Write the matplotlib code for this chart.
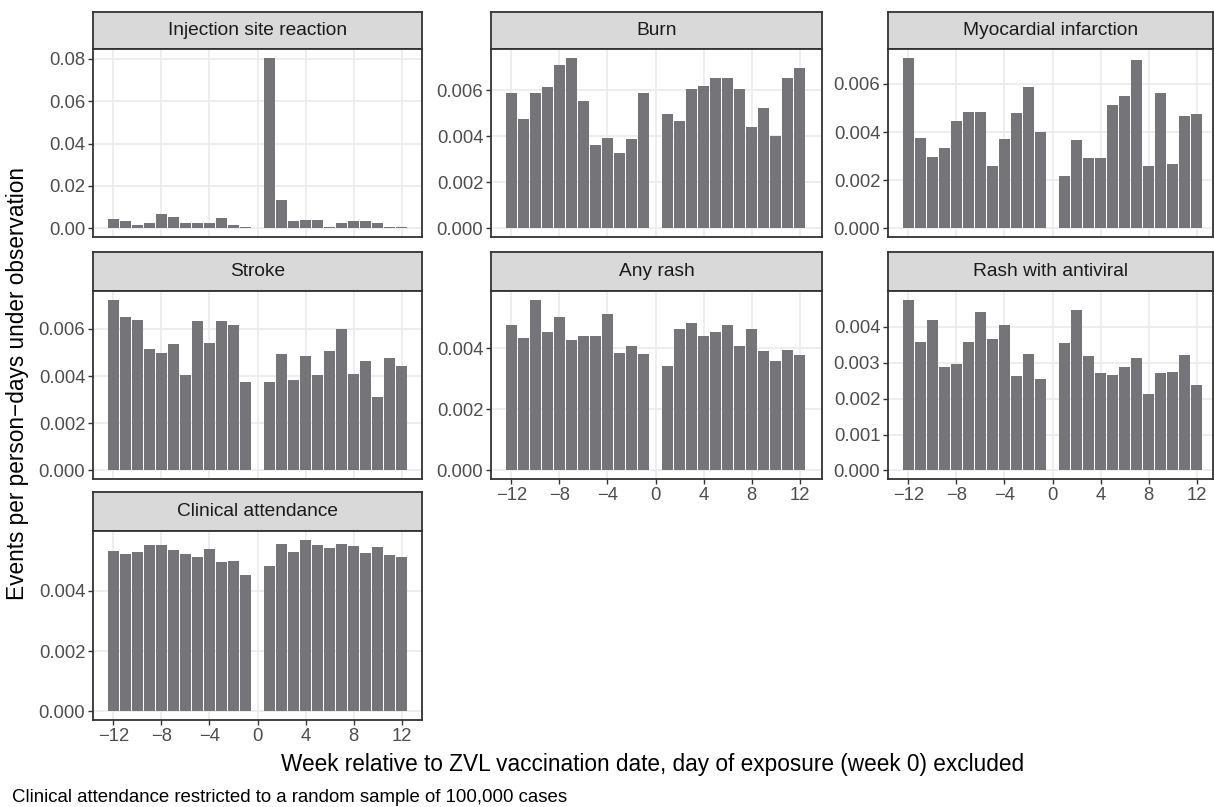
import matplotlib
matplotlib.use("Agg")
import matplotlib.pyplot as plt
from matplotlib.ticker import MultipleLocator, FormatStrFormatter

plt.rcParams['font.family'] = ['Liberation Sans', 'DejaVu Sans']

# weeks relative to vaccination, week 0 excluded
weeks = [-12, -11, -10, -9, -8, -7, -6, -5, -4, -3, -2, -1,
         1, 2, 3, 4, 5, 6, 7, 8, 9, 10, 11, 12]

# event rates
injection = [0.0045, 0.0035, 0.0017, 0.0026, 0.0068, 0.0055, 0.0027, 0.0027, 0.0027, 0.0050, 0.0017, 0.0008,
             0.0805, 0.0133, 0.0035, 0.0040, 0.0040, 0.0007, 0.0027, 0.0035, 0.0035, 0.0027, 0.0008, 0.0008]
burn = [0.00591, 0.00478, 0.00587, 0.00617, 0.00712, 0.00743, 0.00552, 0.00361, 0.00392, 0.00327, 0.00387, 0.00591,
        0.00496, 0.00465, 0.00608, 0.00621, 0.00656, 0.00656, 0.00608, 0.00439, 0.00522, 0.00400, 0.00652, 0.00699]
myocardial = [0.00709, 0.00375, 0.00296, 0.00333, 0.00445, 0.00483, 0.00483, 0.00259, 0.00371, 0.00479, 0.00586, 0.00400,
              0.00217, 0.00367, 0.00292, 0.00292, 0.00512, 0.00549, 0.00698, 0.00259, 0.00562, 0.00267, 0.00466, 0.00474]
stroke = [0.00724, 0.00652, 0.00639, 0.00515, 0.00496, 0.00534, 0.00403, 0.00635, 0.00542, 0.00631, 0.00618, 0.00373,
          0.00373, 0.00492, 0.00382, 0.00483, 0.00403, 0.00507, 0.00600, 0.00407, 0.00462, 0.00310, 0.00475, 0.00441]
any_rash = [0.00478, 0.00433, 0.00560, 0.00455, 0.00504, 0.00426, 0.00442, 0.00442, 0.00514, 0.00384, 0.00407, 0.00382,
            0.00341, 0.00465, 0.00482, 0.00442, 0.00455, 0.00475, 0.00407, 0.00465, 0.00390, 0.00358, 0.00395, 0.00377]
rash_antiviral = [0.00476, 0.00359, 0.00420, 0.00287, 0.00296, 0.00359, 0.00442, 0.00365, 0.00404, 0.00262, 0.00323, 0.00254,
                  0.00354, 0.00448, 0.00318, 0.00271, 0.00265, 0.00287, 0.00312, 0.00212, 0.00271, 0.00273, 0.00321, 0.00237]
clinical = [0.00532, 0.00522, 0.00529, 0.00552, 0.00552, 0.00535, 0.00522, 0.00512, 0.00539, 0.00495, 0.00499, 0.00452,
            0.00482, 0.00555, 0.00529, 0.00570, 0.00552, 0.00542, 0.00555, 0.00548, 0.00526, 0.00545, 0.00519, 0.00512]

outcomes = ["Injection site reaction", "Burn", "Myocardial infarction",
            "Stroke", "Any rash", "Rash with antiviral", "Clinical attendance"]
series = [injection, burn, myocardial, stroke, any_rash, rash_antiviral, clinical]
y_steps = [0.02, 0.002, 0.002, 0.002, 0.002, 0.001, 0.002]
y_fmt = ["%.2f", "%.3f", "%.3f", "%.3f", "%.3f", "%.3f", "%.3f"]

W, H = 1214, 807
fig = plt.figure(figsize=(W / 100, H / 100), dpi=100)

# panel pixel boxes (ggplot facet_wrap, 3 columns)
cols = [(93, 422), (491, 822), (888, 1213)]
rows = [(12, 49, 237), (252, 291, 479), (492, 531, 720)]
xmin, xmax = -13.7, 13.7
px_per_unit = (cols[0][1] - cols[0][0]) / (xmax - xmin)

bar_col = "#757579"
dark = "#333333"
tick_col = "#4D4D4D"

for i, (name, vals) in enumerate(zip(outcomes, series)):
    r, c = divmod(i, 3)
    x0, x1 = cols[c]
    top, mid, bot = rows[r]

    # strip
    sax = fig.add_axes([x0 / W, 1 - mid / H, (x1 - x0) / W, (mid - top) / H])
    sax.set_facecolor("#D9D9D9")
    sax.set_xticks([])
    sax.set_yticks([])
    for s in sax.spines.values():
        s.set_color(dark)
        s.set_linewidth(1.3)
    sax.text(0.5, 0.5, name, ha="center", va="center", fontsize=13.8,
             color="#1A1A1A", transform=sax.transAxes)

    ax = fig.add_axes([x0 / W, 1 - bot / H, (x1 - x0) / W, (bot - mid) / H])
    ax.bar(weeks, vals, width=0.9, color=bar_col, zorder=2)
    vmax = max(vals)
    ax.set_ylim(-0.05 * vmax, 1.05 * vmax)
    ax.set_xlim(xmin, xmin + (x1 - x0) / px_per_unit)
    ax.yaxis.set_major_locator(MultipleLocator(y_steps[i]))
    ax.yaxis.set_major_formatter(FormatStrFormatter(y_fmt[i]))
    ax.xaxis.set_major_locator(MultipleLocator(4))
    ax.grid(True, color="#EBEBEB", linewidth=1.2, zorder=0)
    ax.set_axisbelow(True)
    for s in ax.spines.values():
        s.set_color(dark)
        s.set_linewidth(1.3)
    ax.tick_params(axis="both", colors=dark, labelcolor=tick_col, labelsize=13.3,
                   length=3.5, width=1.0, pad=2)
    if i < 4:
        ax.tick_params(axis="x", bottom=False, labelbottom=False)

fig.text(18 / W, 1 - 383 / H, "Events per person\u2212days under observation", rotation=90,
         ha="center", va="center", fontsize=16.3, color="black")
fig.text(653 / W, 1 - 765 / H, "Week relative to ZVL vaccination date, day of exposure (week 0) excluded",
         ha="center", va="center", fontsize=16.3, color="black")
fig.text(12 / W, 1 - 797 / H, "Clinical attendance restricted to a random sample of 100,000 cases",
         ha="left", va="center", fontsize=13.4, color="black")

fig.savefig("out.png", dpi=100)
